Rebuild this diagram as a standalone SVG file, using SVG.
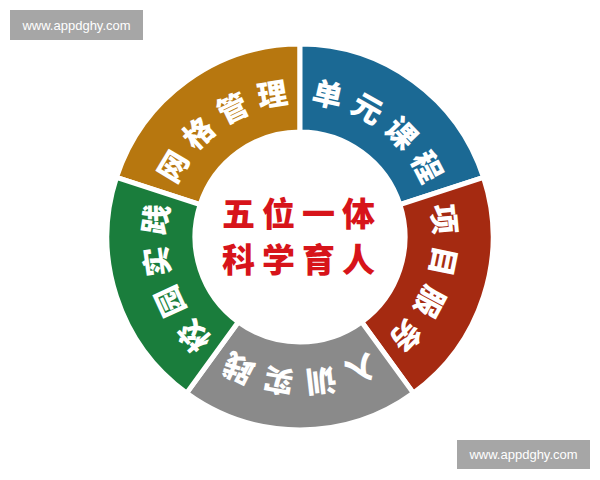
<svg xmlns="http://www.w3.org/2000/svg" width="600" height="480" viewBox="0 0 600 480">
<style>
.seg{stroke:#ffffff;stroke-width:5;stroke-linejoin:miter}
.lbl{font-family:"Noto Sans CJK SC","Noto Sans CJK JP",sans-serif;font-weight:900;font-size:30px;fill:#ffffff;letter-spacing:9px}
.ctr{font-family:"Noto Sans CJK SC","Noto Sans CJK JP",sans-serif;font-weight:900;font-size:33px;fill:#d7141a;letter-spacing:7px}
.wm{fill:#a6a6a6}
.wmt{font-family:"Liberation Sans","DejaVu Sans",sans-serif;font-size:13px;fill:#ffffff}
</style>
<defs>
<path id="ring" d="M221.23,345.41 A134,134 0 1,1 378.77,128.59 A134,134 0 1,1 221.23,345.41"/>
</defs>
<rect width="600" height="480" fill="#ffffff"/>
<g id="watermark-top">
<rect class="wm" x="10" y="10" width="133" height="30"/>
<text class="wmt" x="76.5" y="29.5" text-anchor="middle">www.appdghy.com</text>
</g>
<g id="watermark-bottom">
<rect class="wm" x="457" y="440" width="133" height="29"/>
<text class="wmt" x="523.5" y="459" text-anchor="middle">www.appdghy.com</text>
</g>
<g id="seg-grid">
<path class="seg" fill="#b7770f" d="M116.44,177.36 A193,193 0 0,1 300,44 L300,132 A105,105 0 0,0 200.13,204.55 Z"/>
<text class="lbl"><textPath href="#ring" startOffset="30.5%" text-anchor="middle">网格管理</textPath></text>
</g>
<g id="seg-unit">
<path class="seg" fill="#1b6994" d="M300,44 A193,193 0 0,1 483.56,177.36 L399.87,204.55 A105,105 0 0,0 300,132 Z"/>
<text class="lbl"><textPath href="#ring" startOffset="50.5%" text-anchor="middle">单元课程</textPath></text>
</g>
<g id="seg-project">
<path class="seg" fill="#a52a11" d="M483.56,177.36 A193,193 0 0,1 413.45,393.14 L361.72,321.95 A105,105 0 0,0 399.87,204.55 Z"/>
<text class="lbl"><textPath href="#ring" startOffset="70.5%" text-anchor="middle">项目服务</textPath></text>
</g>
<g id="seg-training">
<path class="seg" fill="#8a8a8a" d="M413.45,393.14 A193,193 0 0,1 186.55,393.14 L238.28,321.95 A105,105 0 0,0 361.72,321.95 Z"/>
<text class="lbl"><textPath href="#ring" startOffset="90.5%" text-anchor="middle">入训实践</textPath></text>
</g>
<g id="seg-practice">
<path class="seg" fill="#1a7d3c" d="M186.55,393.14 A193,193 0 0,1 116.44,177.36 L200.13,204.55 A105,105 0 0,0 238.28,321.95 Z"/>
<text class="lbl"><textPath href="#ring" startOffset="10.5%" text-anchor="middle">校园实践</textPath></text>
</g>
<g id="center">
<text class="ctr" x="302" y="226" text-anchor="middle">五位一体</text>
<text class="ctr" x="302" y="272" text-anchor="middle">科学育人</text>
</g>
</svg>
